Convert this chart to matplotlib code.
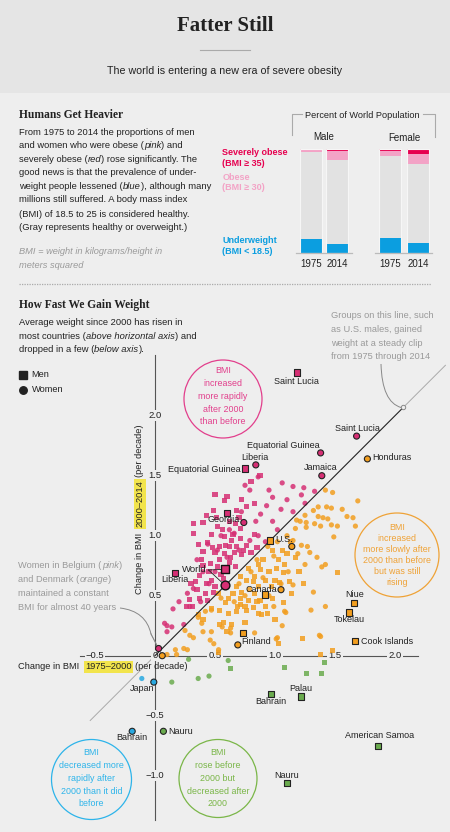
import matplotlib
matplotlib.use('Agg')
import matplotlib.pyplot as plt
from matplotlib.patches import Rectangle, Circle, PathPatch
from matplotlib.path import Path
from matplotlib.lines import Line2D

plt.rcParams['font.family'] = ['Liberation Sans', 'DejaVu Sans']

# ------------------------------------------------------------------ data
bar_sex = ['Male', 'Male', 'Female', 'Female']
bar_year = ['1975', '2014', '1975', '2014']
underweight = [13.8, 8.8, 14.6, 9.7]     # % BMI < 18.5
obese = [3.2, 10.8, 6.4, 14.9]           # % BMI >= 30 (incl. severe)
severe = [0.6, 2.3, 1.6, 5.0]            # % BMI >= 35

# change in BMI per decade: (1975-2000, 2000-2014)
men_pts = [
    (0.875, 1.50), (0.80, 1.45), (0.50, 1.34), (0.60, 1.33), (0.58, 1.29), (0.83, 1.27), (0.76, 1.24),
    (0.68, 1.21), (0.49, 1.21), (0.43, 1.17), (0.51, 1.15), (0.40, 1.11), (0.32, 1.10), (0.71, 1.06),
    (0.56, 1.05), (0.32, 1.02), (0.65, 1.01), (0.47, 1.01), (0.58, 0.99), (0.71, 0.98), (0.83, 1.01),
    (0.44, 0.94), (0.54, 0.91), (0.62, 0.91), (0.68, 0.91), (0.76, 0.92), (0.85, 0.90), (0.40, 0.87),
    (0.50, 0.86), (0.58, 0.85), (0.66, 0.86), (0.72, 0.84), (0.80, 0.86), (0.46, 0.77), (0.54, 0.80),
    (0.62, 0.78), (0.67, 0.74), (0.37, 0.67), (0.47, 0.63), (0.43, 0.60), (0.50, 0.58), (0.42, 0.52),
    (0.53, 0.52), (0.37, 0.48), (0.29, 0.47), (0.26, 0.41), (0.31, 0.41), (0.49, 0.53), (0.35, 0.55),
    (0.60, 0.70), (0.55, 0.68), (0.40, 0.75), (0.30, 0.60), (0.62, 1.12), (0.72, 1.30), (0.70, 1.15),
    (0.64, 0.96), (0.36, 0.93), (0.45, 0.70), (0.52, 0.74), (0.57, 0.64), (0.63, 0.82), (0.74, 0.88),
    (0.48, 0.90), (0.39, 0.80), (0.34, 0.62), (0.44, 0.46), (0.59, 0.92), (0.67, 1.10), (0.52, 1.08),
    (1.10, 0.85), (1.06, 0.88), (1.03, 0.80), (1.08, 0.76), (1.07, 0.69), (1.01, 0.73), (1.00, 0.63),
    (0.97, 0.58), (0.92, 0.63), (0.86, 0.58), (0.83, 0.52), (0.78, 0.46), (0.75, 0.41), (0.69, 0.41),
    (0.875, 0.46), (0.92, 0.41), (0.82, 0.40), (0.94, 0.35), (0.86, 0.35), (1.07, 0.44), (1.14, 0.52),
    (1.17, 0.82), (1.52, 0.69), (1.24, 0.60), (1.04, 0.61), (0.71, 0.43), (0.76, 0.38), (0.89, 0.34),
    (0.64, 0.26), (1.03, 0.10), (1.23, 0.14), (1.38, 0.01), (1.48, 0.04), (0.54, 0.38), (0.61, 0.35),
    (0.68, 0.37), (0.71, 0.48), (0.61, 0.48), (0.65, 0.52), (0.72, 0.53), (0.79, 0.55), (0.76, 0.63),
    (0.83, 0.66), (0.71, 0.66), (0.78, 0.73), (0.86, 0.76), (0.57, 0.28), (0.53, 0.03), (0.36, 0.34),
    (0.40, 0.30), (0.47, 0.39), (0.54, 0.26), (0.90, 0.80), (0.95, 0.70), (0.88, 0.72), (1.12, 0.62),
    (0.98, 0.48), (1.20, 0.70), (0.60, 0.20), (0.75, 0.28), (0.82, 0.62), (0.92, 0.52), (0.68, 0.58),
    (0.59, 0.44), (0.98, 0.88), (1.13, 0.95), (0.85, 0.45), (1.00, 0.30),
    (0.63, -0.11), (1.08, -0.10), (1.26, -0.15), (1.39, -0.15), (1.41, -0.06),
]
women_pts = [
    (0.75, 1.42), (0.79, 1.38), (0.86, 1.49), (1.06, 1.44), (1.15, 1.41), (1.24, 1.40), (1.33, 1.37),
    (0.98, 1.32), (1.10, 1.30), (1.22, 1.34), (1.25, 1.27), (0.93, 1.25), (1.05, 1.22), (1.15, 1.20),
    (0.88, 1.18), (0.98, 1.12), (1.02, 1.05), (0.86, 1.00), (0.92, 0.95), (0.79, 0.96), (0.32, 0.56),
    (0.15, 0.39), (0.10, 0.25), (0.14, 0.24), (0.10, 0.20), (0.08, 0.27), (0.24, 0.26), (0.25, 0.21),
    (0.29, 0.41), (0.44, 0.93), (0.55, 1.00), (0.62, 1.05), (0.40, 0.70), (0.20, 0.45), (0.50, 0.70),
    (0.70, 0.88), (0.35, 0.80), (0.60, 0.82), (0.45, 0.60), (0.66, 1.02), (0.84, 1.12), (0.27, 0.52),
    (0.38, 0.45), (0.52, 0.88), (0.72, 1.20), (0.95, 1.38),
    (1.42, 1.38), (1.48, 1.36), (1.69, 1.29), (1.32, 1.21), (1.36, 1.24), (1.43, 1.24), (1.47, 1.23),
    (1.60, 1.16), (1.65, 1.15), (1.67, 1.08), (1.25, 1.17), (1.36, 1.16), (1.40, 1.15), (1.44, 1.14),
    (1.47, 1.09), (1.52, 1.08), (1.18, 1.13), (1.21, 1.12), (1.26, 1.11), (1.33, 1.10), (1.17, 1.06),
    (1.26, 1.07), (1.38, 1.08), (1.49, 0.99), (1.15, 0.96), (1.22, 0.92), (1.27, 0.91), (1.19, 0.85),
    (1.29, 0.86), (1.35, 0.82), (1.25, 0.76), (1.42, 0.76), (1.11, 0.70), (1.15, 0.59), (1.30, 0.38),
    (1.32, 0.53), (1.42, 0.41), (1.08, 0.37), (0.99, 0.41), (0.94, 0.91), (0.99, 0.83), (1.09, 0.36),
    (1.06, 0.25), (0.83, 0.19), (1.02, 0.15), (1.37, 0.17), (0.63, 0.19), (0.63, 0.23), (1.39, 0.74),
    (1.38, 0.16), (1.01, 0.14), (0.42, 0.37), (0.47, 0.38), (0.36, 0.32), (0.39, 0.27), (0.29, 0.17),
    (0.32, 0.15), (0.47, 0.20), (0.56, 0.24), (0.46, 0.13), (0.24, 0.06), (0.17, 0.05), (0.27, 0.05),
    (0.53, 0.05), (0.18, 0.01), (0.10, 0.01), (0.49, 0.10), (0.40, 0.20), (1.05, 0.60), (0.95, 0.50),
    (0.90, 0.65), (0.80, 0.70), (0.70, 0.60), (0.85, 0.80), (0.75, 0.50), (0.66, 0.45), (1.02, 0.95),
    (1.10, 1.00), (1.56, 1.22), (0.55, 0.48),
    (0.14, -0.22), (0.36, -0.19), (0.45, -0.17), (0.28, -0.03), (0.61, -0.04),
    (-0.11, -0.19),
]

lab_men_names = ['Saint Lucia', 'Equatorial Guinea', 'Georgia', 'Liberia', 'U.S.', 'Canada', 'Niue',
                 'Tokelau', 'Cook Islands', 'Finland', 'Palau', 'Bahrain', 'American Samoa', 'Nauru']
lab_men_x = [1.18, 0.75, 0.60, 0.17, 0.96, 0.92, 1.66, 1.62, 1.67, 0.73, 1.22, 0.97, 1.86, 1.10]
lab_men_y = [2.36, 1.56, 1.19, 0.69, 0.96, 0.51, 0.44, 0.36, 0.12, 0.19, -0.34, -0.32, -0.75, -1.06]

lab_women_names = ['Saint Lucia', 'Equatorial Guinea', 'Honduras', 'Jamaica', 'Liberia', 'Georgia',
                   'U.S.', 'Canada', 'Finland', 'Belgium', 'Denmark', 'Japan', 'Bahrain', 'Nauru']
lab_women_x = [1.68, 1.38, 1.77, 1.39, 0.84, 0.74, 1.14, 1.05, 0.69, 0.03, 0.06, -0.01, -0.19, 0.07]
lab_women_y = [1.83, 1.69, 1.64, 1.50, 1.59, 1.11, 0.91, 0.55, 0.09, 0.06, 0.00, -0.22, -0.63, -0.63]

world_men = (0.58, 0.72)
world_women = (0.58, 0.59)

x_ticks = [-0.5, 0, 0.5, 1.0, 1.5, 2.0]
y_ticks = [2.0, 1.5, 1.0, 0.5, -0.5, -1.0]
steady_end = 2.07   # marker on the y = x line

# ------------------------------------------------------------------ style
W, H = 450, 832
BG = '#eeeeee'
HEAD_BG = '#e5e5e5'
PINK = '#d62f74'
ORANGE = '#f29e1f'
GREEN = '#6aab4e'
BLUE = '#29a9e1'
TXT = '#222222'
GREY = '#9a9a9a'
BAR_GREY = '#e2e2e2'
BAR_BLUE = '#0b9ee0'
BAR_PINK = '#f3a3c6'
BAR_RED = '#e6004f'
YELLOW = '#f2e44c'
SERIF = ['Liberation Serif', 'DejaVu Serif']

fig = plt.figure(figsize=(W / 100, H / 100), dpi=100)
fig.patch.set_facecolor(BG)
R = fig.canvas.get_renderer()


def fx(px):
    return px / W


def fy(py):
    return 1 - py / H


def ftext(px, py, s, **kw):
    kw.setdefault('color', TXT)
    return fig.text(fx(px), fy(py), s, **kw)


def fline(xs, ys, **kw):
    fig.add_artist(Line2D([fx(v) for v in xs], [fy(v) for v in ys], transform=fig.transFigure, **kw))


def tw(s, **kw):
    t = fig.text(0, 0, s + '|', **kw)
    w = t.get_window_extent(R).width
    t.set_text('|')
    w -= t.get_window_extent(R).width
    t.remove()
    return w


def runs(px, py, parts, size, color=TXT):
    x = px
    for s, st in parts:
        kw = dict(fontsize=size, color=st.get('color', color), fontstyle=st.get('style', 'normal'),
                  fontweight=st.get('weight', 'normal'))
        fig.text(fx(x), fy(py), s, va='center', ha='left', **kw)
        x += tw(s, **kw)


N = {}
I = {'style': 'italic'}

# header band
fig.add_artist(Rectangle((0, fy(93)), 1, 93 / H, transform=fig.transFigure, fc=HEAD_BG, ec='none', zorder=0))
ftext(225, 26, 'Fatter Still', ha='center', va='center', fontsize=15, fontweight='bold', family=SERIF)
fline([200, 250], [49.5, 49.5], color='#aaaaaa', lw=0.8)
ftext(225, 70.5, 'The world is entering a new era of severe obesity', ha='center', va='center', fontsize=7.65)

# ------------------------------------------------------------------ section 1
ftext(19, 115, 'Humans Get Heavier', ha='left', va='center', fontsize=8.3, fontweight='bold', family=SERIF)
FS = 6.7
PS = 6.75
para1 = [
    [('From 1975 to 2014 the proportions of men', N)],
    [('and women who were obese (', N), ('pink', I), (') and', N)],
    [('severely obese (', N), ('red', I), (') rose significantly. The', N)],
    [('good news is that the prevalence of under-', N)],
    [('weight people lessened (', N), ('blue', I), ('), although many', N)],
    [('millions still suffered. A body mass index', N)],
    [('(BMI) of 18.5 to 25 is considered healthy.', N)],
    [('(Gray represents healthy or overweight.)', N)],
]
ys1 = [132.3, 145.7, 159.3, 172.7, 186.7, 200, 214.3, 227.7]
for yy, ln in zip(ys1, para1):
    runs(19, yy, ln, PS)
ftext(19, 251.7, 'BMI = weight in kilograms/height in', ha='left', va='center', fontsize=FS,
      color=GREY, fontstyle='italic')
ftext(19, 265.7, 'meters squared', ha='left', va='center', fontsize=FS, color=GREY, fontstyle='italic')

# bars
bar_pos = [0, 1.2, 3.59, 4.86]
axb = fig.add_axes([fx(296), fy(253), 137 / W, 104 / H])
axb.set_xlim(-0.68, 5.545)
axb.set_ylim(0, 100)
axb.axis('off')
gray_h = [100 - u - o for u, o in zip(underweight, obese)]
mild = [o - s for o, s in zip(obese, severe)]
axb.bar(bar_pos, underweight, width=1, color=BAR_BLUE, ec='none')
axb.bar(bar_pos, gray_h, bottom=underweight, width=1, color=BAR_GREY, ec='none')
bot2 = [u + g for u, g in zip(underweight, gray_h)]
axb.bar(bar_pos, mild, bottom=bot2, width=1, color=BAR_PINK, ec='none')
bot3 = [b + m for b, m in zip(bot2, mild)]
axb.bar(bar_pos, severe, bottom=bot3, width=1, color=BAR_RED, ec='none')
axb.bar(bar_pos, [100] * 4, width=1, fc='none', ec='#f6f6f6', lw=0.8)
axb.plot([-0.68, 1.88], [0, 0], color='#bbbbbb', lw=0.9, clip_on=False)
axb.plot([2.9, 5.5], [0, 0], color='#bbbbbb', lw=0.9, clip_on=False)
for p, yr in zip(bar_pos, bar_year):
    axb.text(p, -11, yr, ha='center', va='center', fontsize=7, color=TXT, clip_on=False)
axb.text((bar_pos[0] + bar_pos[1]) / 2, 112, bar_sex[0], ha='center', va='center', fontsize=7, color=TXT, clip_on=False)
axb.text((bar_pos[2] + bar_pos[3]) / 2, 111, bar_sex[2], ha='center', va='center', fontsize=7, color=TXT, clip_on=False)

ftext(362.3, 115.7, 'Percent of World Population', ha='center', va='center', fontsize=6.6)
fline([302, 291.7, 291.7], [113.5, 113.5, 135], color='#aaaaaa', lw=0.8)
fline([423, 435, 435], [113.5, 113.5, 137], color='#aaaaaa', lw=0.8)
LFS = 6.5
ftext(222.3, 152.3, 'Severely obese', ha='left', va='center', fontsize=LFS, fontweight='bold', color=BAR_RED)
ftext(222.3, 163.3, '(BMI ≥ 35)', ha='left', va='center', fontsize=LFS, fontweight='bold', color=BAR_RED)
ftext(222.3, 177, 'Obese', ha='left', va='center', fontsize=LFS, fontweight='bold', color=BAR_PINK)
ftext(222.3, 187.7, '(BMI ≥ 30)', ha='left', va='center', fontsize=LFS, fontweight='bold', color=BAR_PINK)
ftext(222.3, 240.3, 'Underweight', ha='left', va='center', fontsize=LFS, fontweight='bold', color=BAR_BLUE)
ftext(222.3, 251.7, '(BMI < 18.5)', ha='left', va='center', fontsize=LFS, fontweight='bold', color=BAR_BLUE)

# separator
fline([19, 431], [284, 284], color='#aaaaaa', lw=0.9, ls=(0, (1, 1)))

# ------------------------------------------------------------------ section 2 text
ftext(19, 305, 'How Fast We Gain Weight', ha='left', va='center', fontsize=8.3, fontweight='bold', family=SERIF)
para2 = [
    [('Average weight since 2000 has risen in', N)],
    [('most countries (', N), ('above horizontal axis', I), (') and', N)],
    [('dropped in a few (', N), ('below axis', I), (').', N)],
]
for yy, ln in zip([322.7, 336.3, 350], para2):
    runs(19, yy, ln, PS)

fig.add_artist(Line2D([fx(23)], [fy(374.7)], marker='s', ms=5.2, color=TXT, ls='none', transform=fig.transFigure))
fig.add_artist(Line2D([fx(23)], [fy(390)], marker='o', ms=5.4, color=TXT, ls='none', transform=fig.transFigure))
ftext(31.5, 374.7, 'Men', ha='left', va='center', fontsize=FS)
ftext(31.5, 390, 'Women', ha='left', va='center', fontsize=FS)

for yy, s in zip([316, 329.7, 343, 356.7], ['Groups on this line, such', 'as U.S. males, gained',
                                            'weight at a steady clip', 'from 1975 through 2014']):
    ftext(331, yy, s, ha='left', va='center', fontsize=FS, color=GREY)

belg = [
    [('Women in Belgium (', N), ('pink', I), (')', N)],
    [('and Denmark (', N), ('orange', I), (')', N)],
    [('maintained a constant', N)],
    [('BMI for almost 40 years', N)],
]
for yy, ln in zip([565.7, 580, 593.3, 607.3], belg):
    runs(18.5, yy, ln, FS, color=GREY)

# ------------------------------------------------------------------ scatter
PX = 120.0
X0, Y0 = 155.0, 655.7
TOP = 345
ax = fig.add_axes([0, 0, 1, (H - TOP) / H])
ax.set_xlim(-X0 / PX, (W - X0) / PX)
ax.set_ylim((Y0 - H) / PX, (Y0 - TOP) / PX)
ax.axis('off')
ax.patch.set_alpha(0)


def D(px, py):
    return ((px - X0) / PX, (Y0 - py) / PX)


def colour(x, y):
    if y < 0:
        return BLUE if x < 0 else GREEN
    return PINK if y > x else ORANGE


# axes lines
ax.plot([-0.625, 2.19], [0, 0], color='#555555', lw=0.8, zorder=1)
ax.plot([0, 0], [2.51, -1.37], color='#555555', lw=0.8, zorder=1)
for t in x_ticks:
    lab = ('−' if t < 0 else '') + (('%.1f' % abs(t)) if t != 0 else '0')
    ax.text(t, 0, lab, ha='center', va='center', fontsize=6.8, color=TXT, zorder=2,
            bbox=dict(boxstyle='square,pad=0.12', fc=BG, ec='none'))
for t in y_ticks:
    lab = ('−' if t < 0 else '') + '%.1f' % abs(t)
    ax.text(0, t, lab, ha='center', va='center', fontsize=6.8, color=TXT, zorder=2,
            bbox=dict(boxstyle='square,pad=0.12', fc=BG, ec='none'))

# diagonal
ax.plot([0, steady_end], [0, steady_end], color='#222222', lw=0.8, zorder=5)
ax.plot([steady_end, 2.42], [steady_end, 2.42], color='#aaaaaa', lw=0.7, zorder=5)
ax.plot([0, -0.54], [0, -0.54], color='#aaaaaa', lw=0.7, zorder=1)
ax.scatter([steady_end], [steady_end], s=10, fc=BG, ec='#888888', lw=0.7, zorder=6)

# points
mx = [p[0] for p in men_pts]
my = [p[1] for p in men_pts]
wx = [p[0] for p in women_pts]
wy = [p[1] for p in women_pts]
ax.scatter(wx, wy, s=14, marker='o', c=[colour(a, b) for a, b in zip(wx, wy)], alpha=0.85, lw=0, zorder=3)
ax.scatter(mx, my, s=14, marker='s', c=[colour(a, b) for a, b in zip(mx, my)], alpha=0.85, lw=0, zorder=3)
ax.scatter(lab_men_x, lab_men_y, s=19, marker='s', c=[colour(a, b) for a, b in zip(lab_men_x, lab_men_y)],
           ec='#222222', lw=0.8, zorder=7)
ax.scatter(lab_women_x, lab_women_y, s=19, marker='o',
           c=[colour(a, b) for a, b in zip(lab_women_x, lab_women_y)], ec='#222222', lw=0.8, zorder=7)
ax.scatter([world_men[0]], [world_men[1]], s=40, marker='s', c=[colour(*world_men)], ec='#111111', lw=1.0, zorder=7)
ax.scatter([world_women[0]], [world_women[1]], s=40, marker='o', c=[colour(*world_women)], ec='#111111', lw=1.0, zorder=7)

# point labels (pixel positions)
LB = 6.5
men_lab_pos = {
    'Saint Lucia': (296.5, 382, 'center'), 'Equatorial Guinea': (241, 469, 'right'),
    'Georgia': (223.5, 520, 'center'), 'Liberia': (175, 580, 'center'), 'U.S.': (275, 540, 'left'),
    'Canada': (261, 589.3, 'center'), 'Niue': (355, 594.3, 'center'), 'Tokelau': (349, 620, 'center'),
    'Cook Islands': (361, 641.7, 'left'), 'Finland': (241.7, 641.7, 'left'), 'Palau': (301, 688.3, 'center'),
    'Bahrain': (271, 701.7, 'center'), 'American Samoa': (380, 735.7, 'center'), 'Nauru': (286.7, 775, 'center'),
}
women_lab_pos = {
    'Saint Lucia': (357.3, 428.3, 'center'), 'Equatorial Guinea': (283, 445, 'center'),
    'Honduras': (372, 458, 'left'), 'Jamaica': (321, 467, 'center'), 'Liberia': (255, 458, 'center'),
    'Japan': (141.7, 688.3, 'center'), 'Bahrain': (131.7, 737.7, 'center'), 'Nauru': (168.3, 731, 'left'),
}
for name in lab_men_names:
    if name in men_lab_pos:
        px, py, ha = men_lab_pos[name]
        ax.text(*D(px, py), name, ha=ha, va='center', fontsize=LB, color=TXT, zorder=8)
for name in lab_women_names:
    if name in women_lab_pos:
        px, py, ha = women_lab_pos[name]
        ax.text(*D(px, py), name, ha=ha, va='center', fontsize=LB, color=TXT, zorder=8)
ax.text(*D(207, 569.5), 'World', ha='right', va='center', fontsize=LB + 0.3, color=TXT, zorder=8)
ax.plot(*zip(D(208.5, 570), world_men), color='#222222', lw=0.6, zorder=6)
ax.plot(*zip(D(208.5, 570), world_women), color='#222222', lw=0.6, zorder=6)

# axis titles
ax.text(*D(49, 666.7), 'Change in BMI', ha='center', va='center', fontsize=FS, color=TXT)
ax.text(*D(108.3, 666.7), '1975–2000', ha='center', va='center', fontsize=FS, color=TXT,
        bbox=dict(boxstyle='square,pad=0.15', fc=YELLOW, ec='none'))
ax.text(*D(161.7, 666.7), '(per decade)', ha='center', va='center', fontsize=FS, color=TXT)
ax.text(*D(140, 563), 'Change in BMI', ha='center', va='center', fontsize=FS, color=TXT, rotation=90)
ax.text(*D(140, 504), '2000–2014', ha='center', va='center', fontsize=FS, color=TXT, rotation=90,
        bbox=dict(boxstyle='square,pad=0.15', fc=YELLOW, ec='none'))
ax.text(*D(140, 451), '(per decade)', ha='center', va='center', fontsize=FS, color=TXT, rotation=90)


# annotation circles
def ring(cx, cy, r, col, lines, ys):
    ax.add_patch(Circle(D(cx, cy), r / PX, fc='none', ec=col, lw=0.9, zorder=2))
    for s, yy in zip(lines, ys):
        ax.text(*D(cx, yy), s, ha='center', va='center', fontsize=6.4, color=col, zorder=2)


ring(223, 399, 39, '#e23f8c', ['BMI', 'increased', 'more rapidly', 'after 2000', 'than before'],
     [370.7, 384, 396.7, 409, 421.7])
ring(397, 555, 42, '#efa236', ['BMI', 'increased', 'more slowly after', '2000 than before', 'but was still', 'rising'],
     [527.3, 538.3, 550, 560.7, 571.7, 582.3])
ring(91.5, 779.5, 40, '#2db4ea', ['BMI', 'decreased more', 'rapidly after', '2000 than it did', 'before'],
     [752.7, 765.3, 778.3, 791, 803.7])
ring(218, 778.5, 39, '#7ab648', ['BMI', 'rose before', '2000 but', 'decreased after', '2000'],
     [752.7, 765.3, 778.3, 791, 803.7])

# leader curves
def curve(p0, c, p1, **kw):
    path = Path([D(*p0), D(*c), D(*p1)], [Path.MOVETO, Path.CURVE3, Path.CURVE3])
    ax.add_patch(PathPatch(path, fc='none', **kw))


curve((381, 364), (382, 402), (401, 407.5), ec='#888888', lw=0.7, zorder=6)
curve((120, 608), (146, 611), (151, 634), ec='#888888', lw=0.7, zorder=6)
ax.plot(*zip(D(151, 634), (lab_women_x[9], lab_women_y[9])), color='#888888', lw=0.6, zorder=6)
ax.plot(*zip(D(151, 634), (lab_women_x[10], lab_women_y[10])), color='#888888', lw=0.6, zorder=6)

fig.savefig('out.png', dpi=100, facecolor=BG)
